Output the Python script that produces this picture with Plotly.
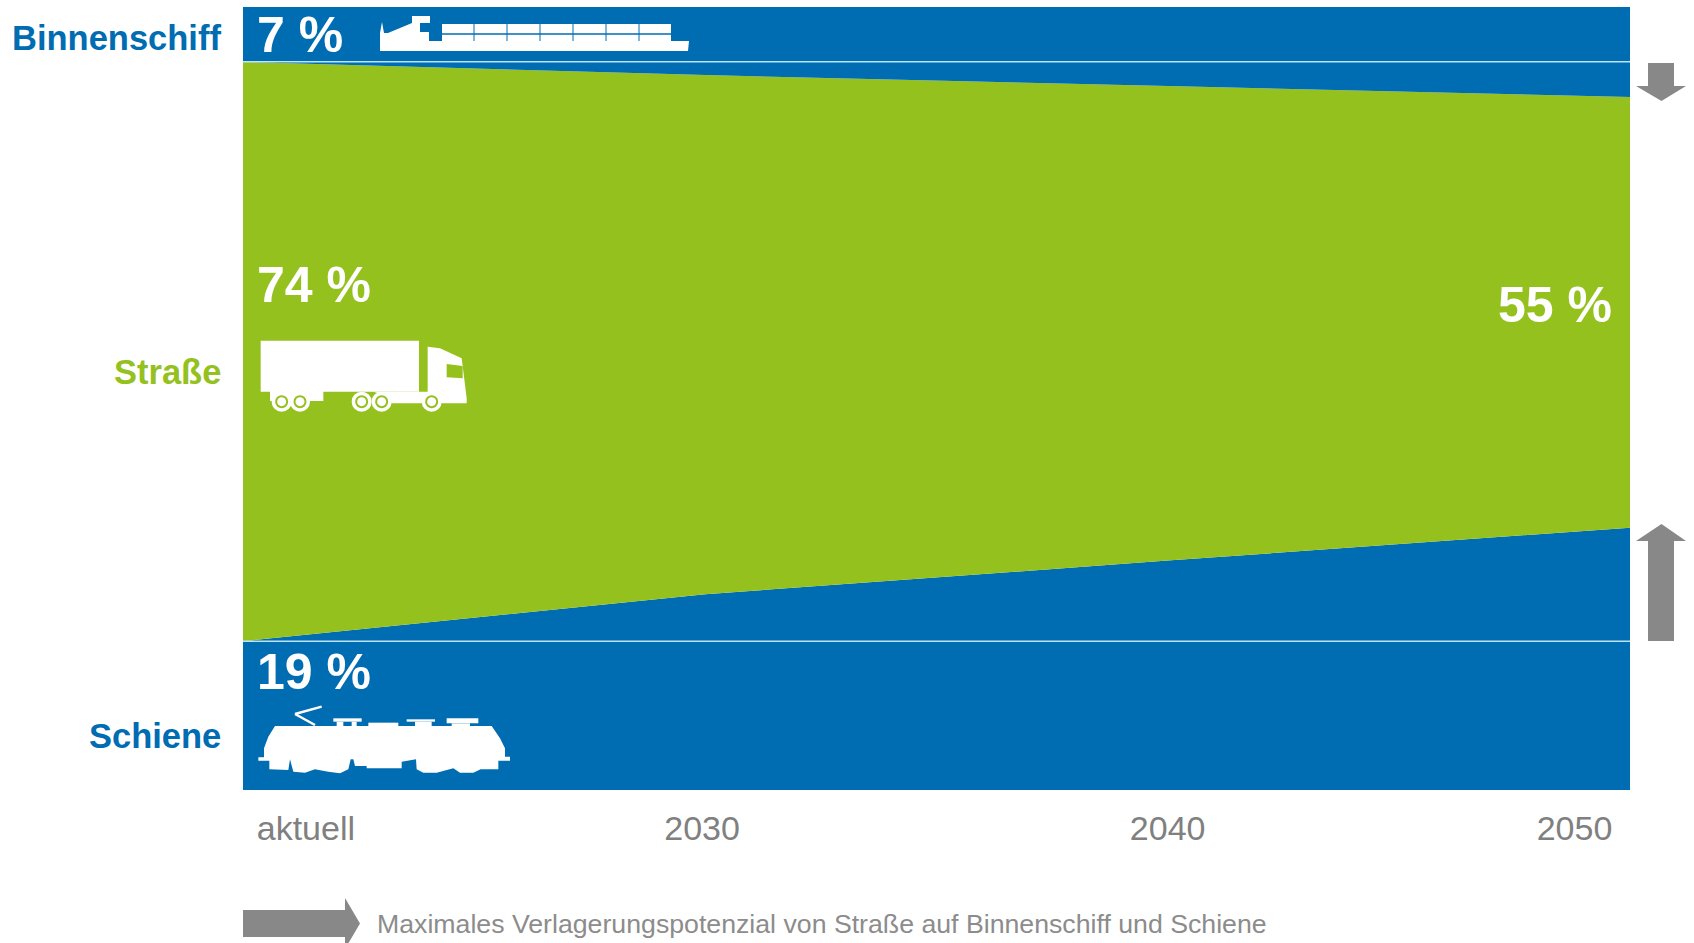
import plotly.graph_objects as go

# Freight modal split, percent of transport volume
years = [2020, 2030, 2040, 2050]
schiene = [19, 25, 29.3, 33.5]
strasse = [74, 66.3, 60.6, 55]
binnenschiff = [7, 8.7, 10.1, 11.5]

# Axis labelling
tick_positions = [2021.36, 2029.93, 2040, 2048.8]
tick_labels = ["aktuell", "2030", "2040", "2050"]

# Share labels and mode names
mode_names = ["Binnenschiff", "Straße", "Schiene"]
share_labels = ["7 %", "74 %", "19 %", "55 %"]
footnote = "Maximales Verlagerungspotenzial von Straße auf Binnenschiff und Schiene"

BLUE = "#006CB2"
GREEN = "#95C11F"
GREY = "#888888"
GUIDE = "#BFE4F5"
FONT = "Liberation Sans"
W, H = 1694, 943
LEFT, RIGHT, TOP, BOTTOM = 243, 1630, 7, 790


def fx(px):
    return (px - LEFT) / (RIGHT - LEFT)


def fy(py):
    return (BOTTOM - py) / (BOTTOM - TOP)


def poly(points, color, line_width=0):
    path = "M" + " L".join(f"{fx(x):.5f},{fy(y):.5f}" for x, y in points) + " Z"
    return dict(type="path", xref="paper", yref="paper", path=path, fillcolor=color,
                line=dict(width=line_width, color=color), layer="above")


def rect(x0, y0, x1, y1, color):
    return dict(type="rect", xref="paper", yref="paper", x0=fx(x0), x1=fx(x1), y0=fy(y0), y1=fy(y1),
                fillcolor=color, line_width=0, layer="above")


def seg(x0, y0, x1, y1, color, width):
    return dict(type="line", xref="paper", yref="paper", x0=fx(x0), x1=fx(x1), y0=fy(y0), y1=fy(y1),
                line=dict(color=color, width=width), layer="above")


def disc(cx, cy, r, color):
    return dict(type="circle", xref="paper", yref="paper", x0=fx(cx - r), x1=fx(cx + r),
                y0=fy(cy + r), y1=fy(cy - r), fillcolor=color, line_width=0, layer="above")


def label(text, px, py, size, color, anchor, bold=True):
    shown = f"<b>{text}</b>" if bold else text
    return dict(text=shown, x=fx(px), y=fy(py), xref="paper", yref="paper", xanchor=anchor, yanchor="middle",
                showarrow=False, font=dict(family=FONT, size=size, color=color))


def scaled(points, ox, oy):
    return [(ox + x / 3, oy + y / 3) for x, y in points]


shapes = []

# Barge silhouette
shapes.append(poly([(380, 51), (380, 33), (388, 33), (412, 23), (412, 16), (430, 16), (430, 23), (420, 23),
                    (420, 32), (429, 32), (429, 41), (689, 41), (688, 51)], "white"))
shapes.append(poly([(380, 33), (382, 22), (384, 33)], "white"))
shapes.append(rect(442, 24, 671, 41, "white"))
shapes.append(seg(442, 34, 671, 34, BLUE, 1.5))
for dx in (474, 507, 540, 573, 606, 639):
    shapes.append(seg(dx, 24, dx, 41, BLUE, 1))

# Truck silhouette
T = (240, 320)
shapes.append(poly(scaled([(62, 62), (537, 62), (537, 215), (250, 215), (250, 243), (90, 243), (90, 215), (62, 215)], *T), "white"))
shapes.append(poly(scaled([(563, 80), (600, 85), (665, 115), (672, 170), (680, 235), (680, 250), (600, 250),
                           (440, 250), (420, 222), (400, 215), (563, 215)], *T), "white"))
shapes.append(poly(scaled([(620, 132), (668, 138), (668, 175), (620, 172)], *T), GREEN))
for zx in (125, 180, 365, 425, 575):
    cx, cy = T[0] + zx / 3, T[1] + 245 / 3
    shapes.append(disc(cx, cy, 10, "white"))
    shapes.append(disc(cx, cy, 6.5, GREEN))
    shapes.append(disc(cx, cy, 4.5, "white"))

# Locomotive silhouette
L = (240, 640)
shapes.append(poly(scaled([(55, 352), (72, 352), (72, 325), (85, 290), (105, 258), (755, 258), (780, 295), (795, 325),
                           (795, 350), (810, 350), (810, 362), (775, 362), (775, 388), (722, 388), (700, 398),
                           (660, 398), (640, 385), (590, 398), (550, 398), (530, 388), (528, 358), (485, 365),
                           (485, 385), (380, 385), (380, 378), (345, 378), (340, 358), (332, 358), (325, 388),
                           (300, 400), (265, 395), (225, 388), (195, 398), (160, 395), (150, 358), (145, 390),
                           (88, 388), (88, 362), (55, 362)], *L), "white"))
for a, b, c, d in [(280, 235, 365, 245), (290, 245, 310, 258), (335, 245, 350, 258), (385, 248, 475, 258),
                   (500, 238, 585, 245), (525, 245, 575, 258), (620, 235, 715, 250), (635, 250, 690, 258)]:
    shapes.append(rect(L[0] + a / 3, L[1] + b / 3, L[0] + c / 3, L[1] + d / 3, "white"))
shapes.append(seg(L[0] + 245 / 3, L[1] + 200 / 3, L[0] + 165 / 3, L[1] + 222 / 3, "white", 2.5))
shapes.append(seg(L[0] + 165 / 3, L[1] + 222 / 3, L[0] + 225 / 3, L[1] + 255 / 3, "white", 2.5))

# Shift arrows beside the plot and in the footnote
shapes.append(poly([(1648, 63), (1674, 63), (1674, 86), (1686, 86), (1661.5, 101), (1636, 86), (1648, 86)], GREY))
shapes.append(poly([(1648, 641), (1674, 641), (1674, 541), (1686, 541), (1661.5, 524), (1636, 541), (1648, 541)], GREY))
shapes.append(poly([(243, 910), (345, 910), (345, 898), (360, 923.5), (345, 949), (345, 937), (243, 937)], GREY))

fig = go.Figure()
for name, values, color in [("Schiene", schiene, BLUE), ("Straße", strasse, GREEN), ("Binnenschiff", binnenschiff, BLUE)]:
    fig.add_trace(go.Scatter(x=years, y=values, name=name, stackgroup="modes", mode="none",
                             fillcolor=color, hoverinfo="name+y"))

# Guides at today's shares of rail and inland shipping
fig.add_trace(go.Scatter(x=[years[0], years[-1]], y=[schiene[0]] * 2, mode="lines",
                         line=dict(color=GUIDE, width=1.5), hoverinfo="skip"))
fig.add_trace(go.Scatter(x=[years[0], years[-1]], y=[100 - binnenschiff[0]] * 2, mode="lines",
                         line=dict(color=GUIDE, width=1.5), hoverinfo="skip"))

annotations = [
    label(mode_names[0], 223, 38, 34.5, BLUE, "right"),
    label(mode_names[1], 223, 372, 34.5, GREEN, "right"),
    label(mode_names[2], 223, 736, 34.5, BLUE, "right"),
    label(share_labels[0], 255, 35, 50, "white", "left"),
    label(share_labels[1], 255, 285, 50, "white", "left"),
    label(share_labels[2], 255, 672, 50, "white", "left"),
    label(share_labels[3], 1614, 305, 50, "white", "right"),
    label(footnote, 375, 924, 26.7, "#8C8C8C", "left", bold=False),
]

fig.update_layout(
    width=W, height=H, autosize=False,
    margin=dict(l=LEFT, r=W - RIGHT, t=TOP, b=H - BOTTOM, pad=0),
    paper_bgcolor="white", plot_bgcolor="white", showlegend=False,
    font=dict(family=FONT),
    shapes=shapes, annotations=annotations,
    xaxis=dict(range=[years[0], years[-1]], tickmode="array", tickvals=tick_positions, ticktext=tick_labels,
               showgrid=False, zeroline=False, showline=False, ticks="outside", ticklen=8,
               tickcolor="rgba(0,0,0,0)", tickangle=0, tickfont=dict(family=FONT, size=34, color="#808080")),
    yaxis=dict(range=[0, 100], visible=False, fixedrange=True),
)

fig.write_html("out.html", config=dict(displayModeBar=False))
